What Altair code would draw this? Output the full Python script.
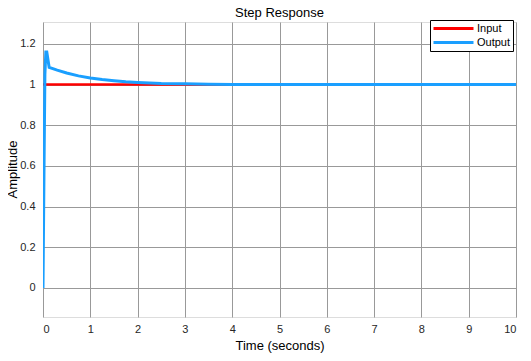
import altair as alt
import pandas as pd

# Output step response samples
out_t = [0.0, 0.02, 0.04, 0.06, 0.08, 0.10, 0.13, 0.3, 0.5, 0.75, 1.0, 1.25, 1.5, 1.75, 2.0, 2.5, 3.0, 3.5, 4.0, 5.0, 6.0, 7.0, 8.0, 9.0, 10.0]
out_y = [0.0, 0.55, 1.05, 1.16, 1.16, 1.13, 1.085, 1.071, 1.057, 1.043, 1.033, 1.025, 1.019, 1.014, 1.011, 1.006, 1.004, 1.002, 1.001, 1.0, 1.0, 1.0, 1.0, 1.0, 1.0]

in_t = [0.0, 10.0]
in_y = [1.0, 1.0]

series = ["Input", "Output"]
colors = ["#ff0000", "#1a9fff"]

x_ticks = [0, 1, 2, 3, 4, 5, 6, 7, 8, 9, 10]
y_ticks = [0, 0.2, 0.4, 0.6, 0.8, 1.0, 1.2]

df_in = pd.DataFrame({"t": in_t, "y": in_y, "s": "Input"})
df_out = pd.DataFrame({"t": out_t, "y": out_y, "s": "Output"})

FONT = "Liberation Sans"
axis_style = dict(grid=True, ticks=False, domain=False,
                  gridColor="#999999", gridOpacity=1, gridWidth=1,
                  labelFont=FONT, titleFont=FONT, labelFontSize=11, titleFontSize=13,
                  labelColor="#262626", titleColor="#000000", titleFontWeight="normal")

x = alt.X("t:Q", title="Time (seconds)",
          scale=alt.Scale(domain=[0, 10], nice=False, zero=False),
          axis=alt.Axis(values=x_ticks, format="d", labelPadding=6, titlePadding=5,
                        **axis_style))
y = alt.Y("y:Q", title="Amplitude",
          scale=alt.Scale(domain=[-0.143, 1.308], nice=False, zero=False),
          axis=alt.Axis(values=y_ticks, format="~g", labelPadding=8,
                        titleX=-31, titleY=147, titleAngle=270,
                        titleAlign="center", titleBaseline="middle",
                        **axis_style))
color = alt.Color("s:N", title=None,
                  scale=alt.Scale(domain=series, range=colors),
                  legend=alt.Legend(orient="none", legendX=387, legendY=-2,
                                    symbolType="stroke", symbolSize=1600,
                                    symbolStrokeWidth=3, labelFontSize=11,
                                    labelColor="#000000", labelFont=FONT,
                                    strokeColor="#000000", fillColor="#ffffff",
                                    padding=2, rowPadding=1, labelOffset=2,
                                    clipHeight=13, symbolOffset=0,
                                    cornerRadius=0))

line_in = alt.Chart(df_in).mark_line(strokeWidth=2.5, clip=True).encode(x=x, y=y, color=color)
line_out = alt.Chart(df_out).mark_line(strokeWidth=3, clip=True).encode(x=x, y=y, color=color)

chart = alt.layer(line_in, line_out).properties(
    width=473, height=295,
    title=alt.TitleParams("Step Response", fontSize=13, fontWeight="normal",
                          font=FONT, color="#000000", offset=6, frame="group", dy=6),
    autosize=alt.AutoSizeParams(type="none"),
    padding={"left": 35, "top": 14, "right": 7, "bottom": 36},
).configure_view(
    stroke="#000000", strokeWidth=1
).configure(background="#ffffff")

chart.save("out.html", embed_options={"renderer": "svg", "actions": False})
